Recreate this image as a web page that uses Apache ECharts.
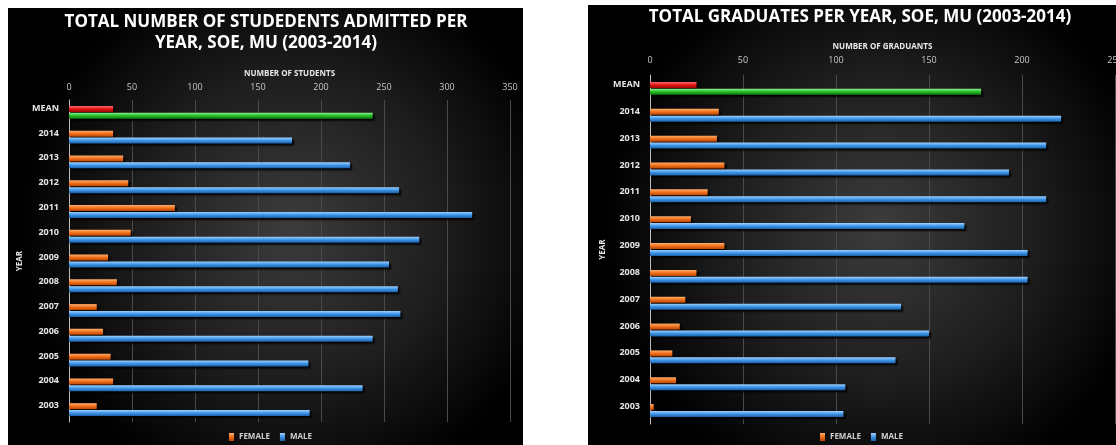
<!DOCTYPE html>
<html>
<head>
<meta charset="utf-8">
<script src="https://cdn.jsdelivr.net/npm/echarts@6/dist/echarts.min.js"></script>
<style>
html,body{margin:0;padding:0;background:#fff;}
#chart{width:1116px;height:445px;}
</style>
</head>
<body>
<div id="chart"></div>
<script>
// Categories (bottom to top)
const years = ['2003','2004','2005','2006','2007','2008','2009','2010','2011','2012','2013','2014','MEAN'];
// Left chart: students admitted
const admittedFemale = [22,35,33,27,22,38,31,49,84,47,43,35,35];
const admittedMale   = [191,233,190,241,263,261,254,278,320,262,223,177,241];
// Right chart: graduates
const gradFemale = [2,14,12,16,19,25,40,22,31,40,36,37,25];
const gradMale   = [104,105,132,150,135,203,203,169,213,193,213,221,178];
// Axis ticks
const admittedTicks = [0,50,100,150,200,250,300,350];
const gradTicks = [0,50,100,150,200,250];

const G = echarts.graphic;
function grad(c1,c2,c3){
  return new G.LinearGradient(0,0,0,1,[{offset:0,color:c1},{offset:0.5,color:c2},{offset:1,color:c3}]);
}
const cFemale = grad('#ffae6a','#f0701c','#b84505');
const cMale   = grad('#9fd0ff','#3d95e6','#1c5fa8');
const cMeanF  = grad('#ff6a6a','#e01818','#a00000');
const cMeanM  = grad('#8cf08c','#22b822','#0f7a0f');

function mkData(vals, meanColor){
  return vals.map((v,i)=> years[i]==='MEAN' ? {value:v,itemStyle:{color:meanColor}} : v);
}
const barStyleBase = {shadowColor:'rgba(0,0,0,0.95)',shadowBlur:2,shadowOffsetX:2,shadowOffsetY:2};

function xAx(idx, name, ticks, nameGap, labelMargin){
  return {
    gridIndex: idx, type:'value', position:'top', min:ticks[0], max:ticks[ticks.length-1], interval:50,
    name:name, nameLocation:'middle', nameGap:nameGap,
    nameTextStyle:{color:'#e8e8e8',fontSize:8,fontWeight:'bold',fontFamily:'Open Sans'},
    axisLine:{show:false}, axisTick:{show:false},
    axisLabel:{color:'#c8c8c8',fontSize:9,margin:labelMargin,fontFamily:'Open Sans',hideOverlap:false},
    splitLine:{show:true,lineStyle:{color:'#4a4a4a',width:1}}
  };
}
function yAx(idx, nameGap){
  return {
    gridIndex: idx, type:'category', data:years,
    name:'YEAR', nameLocation:'middle', nameRotate:90, nameGap:nameGap,
    nameTextStyle:{color:'#e8e8e8',fontSize:8,fontWeight:'bold',fontFamily:'Open Sans'},
    axisLine:{show:true,lineStyle:{color:'#bdbdbd',width:1}}, axisTick:{show:false},
    axisLabel:{color:'#e6e6e6',fontSize:9,fontWeight:'bold',margin:10,fontFamily:'Open Sans',verticalAlign:'bottom',lineHeight:8},
    splitLine:{show:false}
  };
}
function bar(name, xi, vals, color, meanColor){
  return {
    name:name, type:'bar', xAxisIndex:xi, yAxisIndex:xi,
    data: mkData(vals, meanColor), barWidth:6, barGap:'15%',
    itemStyle:Object.assign({color:color}, barStyleBase)
  };
}
const titleStyle = {color:'#ffffff',fontSize:17,fontWeight:'bold',fontFamily:'Open Sans',lineHeight:21};
const legendBase = {
  data:['FEMALE','MALE'], orient:'horizontal', icon:'rect', itemWidth:5, itemHeight:8, itemGap:10,
  textStyle:{color:'#d0d0d0',fontSize:8,fontWeight:'bold',fontFamily:'Open Sans'}, padding:0
};

const chart = echarts.init(document.getElementById('chart'), null, {renderer:'canvas'});
chart.setOption({
  backgroundColor:'#ffffff',
  animation:false,
  graphic:[
    {type:'rect', z:-10, shape:{x:8,y:8,width:515,height:440},
     style:{fill:new G.RadialGradient(0.55,0.5,0.62,[{offset:0,color:'#3c3c3c'},{offset:0.55,color:'#1e1e1e'},{offset:1,color:'#000000'}])}},
    {type:'rect', z:-10, shape:{x:588,y:5,width:530,height:445},
     style:{fill:new G.RadialGradient(0.55,0.5,0.62,[{offset:0,color:'#3c3c3c'},{offset:0.55,color:'#1e1e1e'},{offset:1,color:'#000000'}])}}
  ],
  title:[
    {text:'TOTAL NUMBER OF STUDEDENTS ADMITTED PER\nYEAR, SOE, MU (2003-2014)', left:266, top:12, textAlign:'center', padding:0, textStyle:titleStyle},
    {text:'TOTAL GRADUATES PER YEAR, SOE, MU (2003-2014)', left:860, top:7, textAlign:'center', padding:0, textStyle:titleStyle}
  ],
  legend:[
    Object.assign({left:229, top:433}, legendBase),
    Object.assign({left:820, top:433}, legendBase)
  ],
  grid:[
    {left:69, right:606, top:100, bottom:23, outerBoundsMode:'none', containLabel:false},
    {left:650, right:1, top:75, bottom:21, outerBoundsMode:'none', containLabel:false}
  ],
  xAxis:[ xAx(0,'NUMBER OF STUDENTS',admittedTicks,22,8), xAx(1,'NUMBER OF GRADUANTS',gradTicks,24,10) ],
  yAxis:[ yAx(0,45), yAx(1,43) ],
  series:[
    bar('FEMALE',0,admittedFemale,cFemale,cMeanF),
    bar('MALE',0,admittedMale,cMale,cMeanM),
    bar('FEMALE',1,gradFemale,cFemale,cMeanF),
    bar('MALE',1,gradMale,cMale,cMeanM)
  ]
});
</script>
</body>
</html>
